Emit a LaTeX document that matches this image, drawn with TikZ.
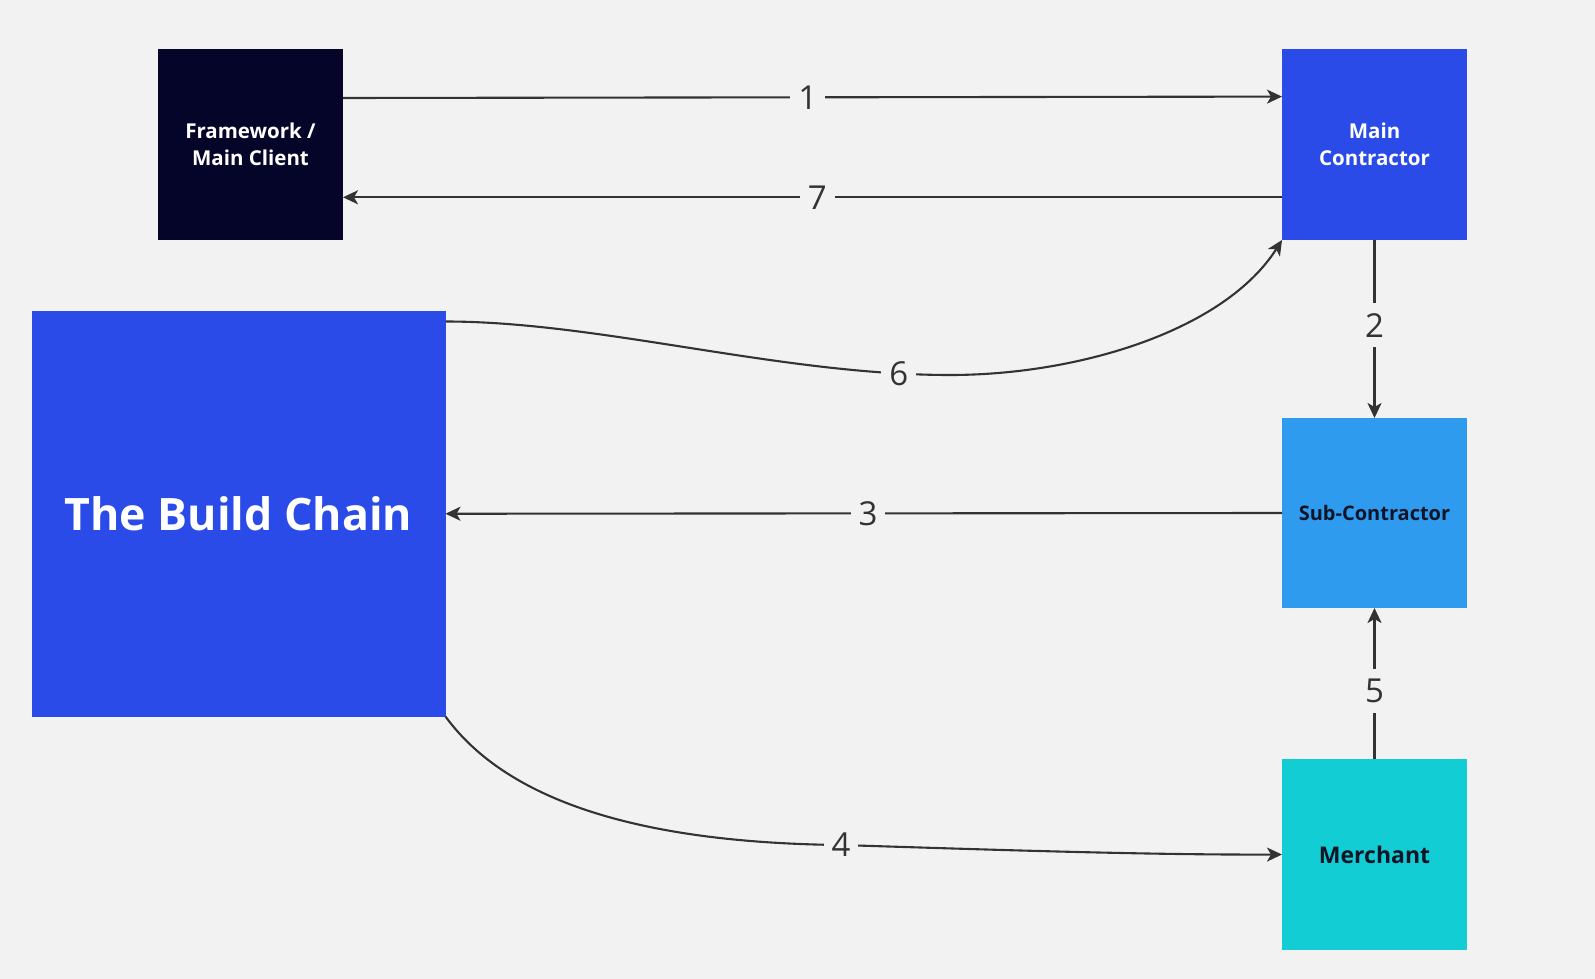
\documentclass[tikz,border=0pt]{standalone}
\usepackage{fontspec}
\setmainfont{Open Sans}
\usetikzlibrary{arrows.meta}
\definecolor{bg}{HTML}{F2F2F2}
\definecolor{navy}{HTML}{050529}
\definecolor{blueA}{HTML}{2A4BE8}
\definecolor{blueB}{HTML}{2E9BEF}
\definecolor{cyanA}{HTML}{13CDD4}
\definecolor{ink}{HTML}{333333}
\definecolor{darktext}{HTML}{0F1526}
\begin{document}
\begin{tikzpicture}[x=1pt,y=-1pt,
  box/.style={rectangle, inner sep=0pt, outer sep=0pt, minimum width=185pt, minimum height=191pt, align=center, font=\bfseries\fontsize{20.5pt}{27.5pt}\selectfont},
  conn/.style={draw=ink, line width=2.1pt, -{Stealth[length=15pt,width=14pt,inset=4pt]}},
  lbl/.style={fill=bg, text=ink, inner xsep=8pt, inner ysep=10pt, font=\fontsize{33pt}{33pt}\selectfont}]
\fill[bg] (0,0) rectangle (1595,979);
\useasboundingbox (0,0) rectangle (1595,979);

\node[box, fill=navy, text=white] (fw) at (250.5,144.5) {Framework /\\Main Client};
\node[box, fill=blueA, text=white] (mc) at (1374.5,144.5) {Main\\Contractor};
\node[box, fill=blueB, text=darktext, minimum height=190pt, font=\bfseries\fontsize{20pt}{27pt}\selectfont] (sub) at (1374.5,513) {Sub-Contractor};
\node[box, fill=cyanA, text=darktext, font=\bfseries\fontsize{23pt}{28pt}\selectfont] (mer) at (1374.5,854.5) {Merchant};
\node[box, fill=blueA, text=white, minimum width=414pt, minimum height=405.5pt, font=\bfseries\fontsize{44.7pt}{52pt}\selectfont] (bc) at (238.5,513.75) {The Build Chain};

\draw[conn] ([yshift=-49pt]fw.north east) -- node[lbl,pos=0.495] (l1) {1} ([yshift=-47.6pt]mc.north west);
\draw[conn] ([yshift=-148.3pt]mc.north west) -- node[lbl,pos=0.495] (l7) {7} ([yshift=-148.3pt]fw.north east);
\draw[conn] (mc.south) -- node[lbl,pos=0.48] (l2) {2} (sub.north);
\draw[conn] (sub.west) -- node[lbl,pos=0.495] (l3) {3} (bc.east);
\draw[conn] (mer.north) -- node[lbl,pos=0.45] (l5) {5} (sub.south);
\draw[conn] ([yshift=-10.5pt]bc.north east) .. controls (600,321.5) and (780,375) .. (950,375) node[lbl,pos=0.9] (l6) {6} .. controls (1080,375) and (1225,330) .. (mc.south west);
\draw[conn] (bc.south east) .. controls (510,805) and (650,843) .. (841,845) node[lbl] (l4) {4} .. controls (1000,850) and (1150,855) .. (mer.west);
\end{tikzpicture}
\end{document}
